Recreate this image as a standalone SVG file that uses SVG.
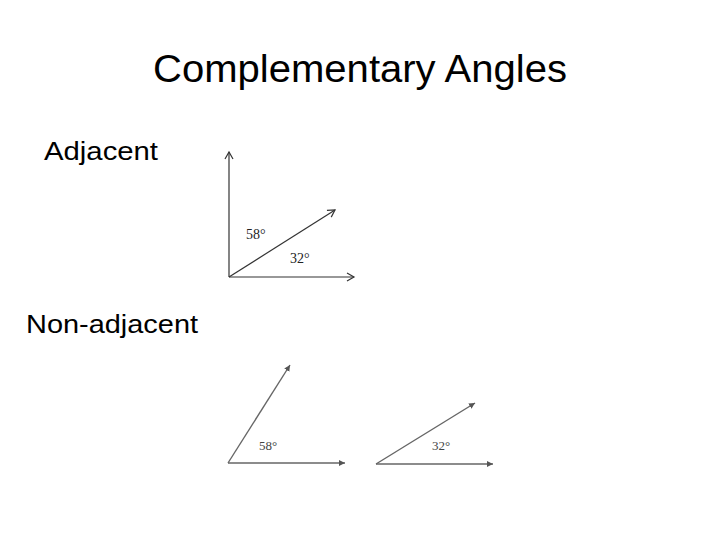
<svg xmlns="http://www.w3.org/2000/svg" width="720" height="540" viewBox="0 0 720 540">
<style>
.title{font-family:"Liberation Sans",Arial,sans-serif;font-size:38px;fill:#000}
.lbl{font-family:"Liberation Sans",Arial,sans-serif;font-size:26px;fill:#000}
.deg{font-family:"Liberation Serif","Times New Roman",serif;font-size:14px;fill:#222}
.deg2{font-family:"Liberation Serif","Times New Roman",serif;font-size:13px;fill:#444}
.ray{stroke:#333;stroke-width:1.2;fill:none;marker-end:url(#ah)}
.ray2{stroke:#666;stroke-width:1.4;fill:none;marker-end:url(#ah2)}
</style>
<defs>
<marker id="ah" markerWidth="10" markerHeight="10" refX="8" refY="5" orient="auto" markerUnits="userSpaceOnUse">
<path d="M1,1 L8,5 L1,9" fill="none" stroke="#333" stroke-width="1.2"/>
</marker>
<marker id="ah2" markerWidth="8" markerHeight="8" refX="6" refY="4" orient="auto" markerUnits="userSpaceOnUse">
<path d="M0,1 L6,4 L0,7 Z" fill="#555"/>
</marker>
</defs>
<rect width="720" height="540" fill="#fff"/>
<text class="title" x="360" y="82" text-anchor="middle" textLength="414" lengthAdjust="spacingAndGlyphs">Complementary Angles</text>
<text class="lbl" x="44" y="160" textLength="114" lengthAdjust="spacingAndGlyphs">Adjacent</text>
<text class="lbl" x="26" y="333" textLength="172" lengthAdjust="spacingAndGlyphs">Non-adjacent</text>
<g id="connectors">
<line class="ray" x1="229" y1="277" x2="229" y2="152"/>
<line class="ray" x1="229" y1="277" x2="354" y2="277"/>
<line class="ray" x1="229" y1="277" x2="335" y2="210"/>
<line class="ray2" x1="228" y1="463" x2="290" y2="365"/>
<line class="ray2" x1="228" y1="463" x2="345" y2="463"/>
<line class="ray2" x1="376" y1="464" x2="475" y2="403"/>
<line class="ray2" x1="376" y1="464" x2="493" y2="464"/>
</g>
<g id="adjacent-labels">
<text class="deg" x="246" y="239">58°</text>
<text class="deg" x="290" y="263">32°</text>
</g>
<g id="nonadjacent-labels">
<text class="deg2" x="259" y="450">58°</text>
<text class="deg2" x="432" y="450">32°</text>
</g>
</svg>
